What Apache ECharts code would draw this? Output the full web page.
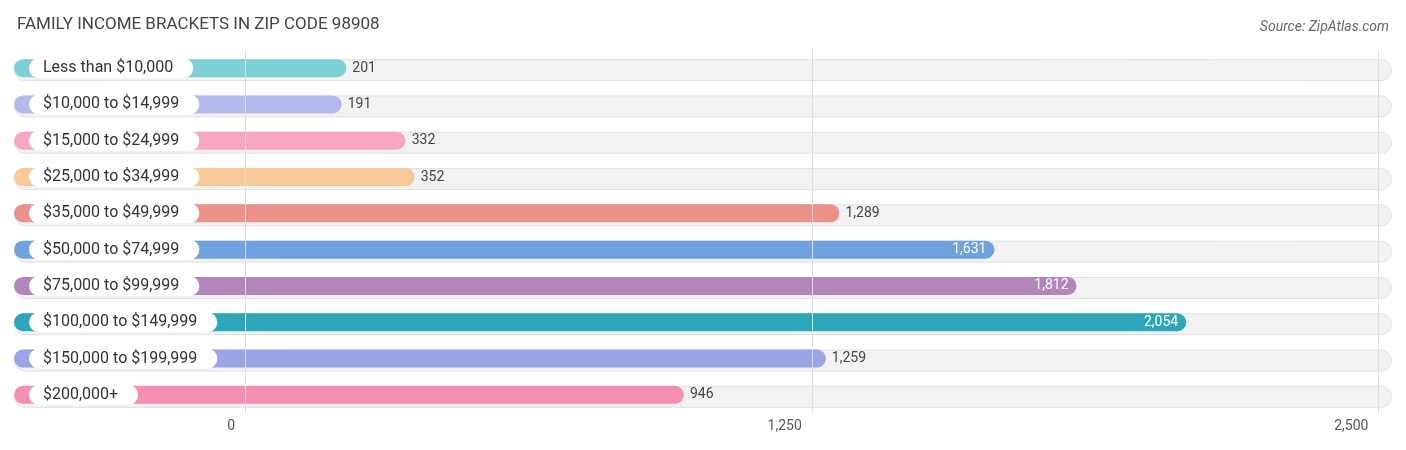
<!DOCTYPE html>
<html style="height: 100%">
<head><meta charset="utf-8"></head>
<body style="height: 100%; margin: 0; background:#fff">
<div id="container" style="width:1406px;height:450px"></div>
<script src="https://cdn.jsdelivr.net/npm/echarts@6/dist/echarts.min.js"></script>
<script>
var categories = ['Less than $10,000','$10,000 to $14,999','$15,000 to $24,999','$25,000 to $34,999','$35,000 to $49,999','$50,000 to $74,999','$75,000 to $99,999','$100,000 to $149,999','$150,000 to $199,999','$200,000+'];
var values = [201, 191, 332, 352, 1289, 1631, 1812, 2054, 1259, 946];
var colors = ['#7dd0d6','#b3b9ec','#f7a7c0','#f9c99a','#ea9189','#6fa3e0','#b386bb','#2ba7b9','#9aa4e6','#f58fb0'];
var ticks = [0, 1250, 2500];

// the bars reach left of zero to hold the category pill
var shift = 510, endPad = 22, full = 3040;
var insideMin = 1500;

var chart = echarts.init(document.getElementById('container'));
chart.setOption({
  animation: false,
  title: [
    { text: 'FAMILY INCOME BRACKETS IN ZIP CODE 98908', left: 12, top: 11,
      textStyle: { fontFamily: 'Roboto', fontWeight: 'normal', fontSize: 17, color: '#444' } },
    { text: 'Source: ZipAtlas.com', right: 12, top: 15,
      textStyle: { fontFamily: 'Roboto', fontStyle: 'italic', fontWeight: 'normal', fontSize: 14, color: '#666' } }
  ],
  grid: { left: 14, right: 14, top: 50, bottom: 37 },
  xAxis: { type: 'value', min: 0, max: full, show: false },
  yAxis: { type: 'category', data: categories, inverse: true, show: false },
  series: [
    {
      type: 'bar', barWidth: 22, silent: true,
      data: categories.map(function () { return full; }),
      itemStyle: { color: '#f2f2f2', borderColor: '#e2e2e2', borderWidth: 1, borderRadius: 11 },
      markLine: {
        symbol: 'none', silent: true,
        lineStyle: { color: '#dddddd', type: 'solid', width: 1 },
        label: { position: 'end', distance: 6, align: 'right', padding: [0, 10, 0, 0],
          color: '#555', fontFamily: 'Roboto', fontSize: 14,
          formatter: function (p) { return ticks[p.dataIndex].toLocaleString('en-US'); } },
        data: ticks.map(function (t) { return { xAxis: t + shift }; })
      },
      z: 1
    },
    {
      type: 'bar', barWidth: 18, barGap: '-100%',
      data: values.map(function (v, i) {
        var inside = v > insideMin;
        return {
          value: v + shift + endPad,
          itemStyle: { color: colors[i], borderRadius: 9 },
          label: {
            show: true,
            position: inside ? 'insideRight' : 'right',
            color: inside ? '#fff' : '#444',
            distance: inside ? 8 : 6,
            fontFamily: 'Roboto', fontSize: 14,
            formatter: v.toLocaleString('en-US')
          }
        };
      }),
      z: 3
    },
    {
      type: 'bar', barWidth: 18, barGap: '-100%', silent: true,
      data: values.map(function () { return shift - 60; }),
      itemStyle: { color: 'transparent' },
      label: {
        show: true, position: 'insideLeft', offset: [10, 0],
        backgroundColor: '#fff', borderRadius: 10, padding: [2, 20, 2, 14],
        color: '#333', fontFamily: 'Roboto', fontSize: 16,
        formatter: function (p) { return categories[p.dataIndex]; }
      },
      z: 4
    }
  ]
});
</script>
</body>
</html>
